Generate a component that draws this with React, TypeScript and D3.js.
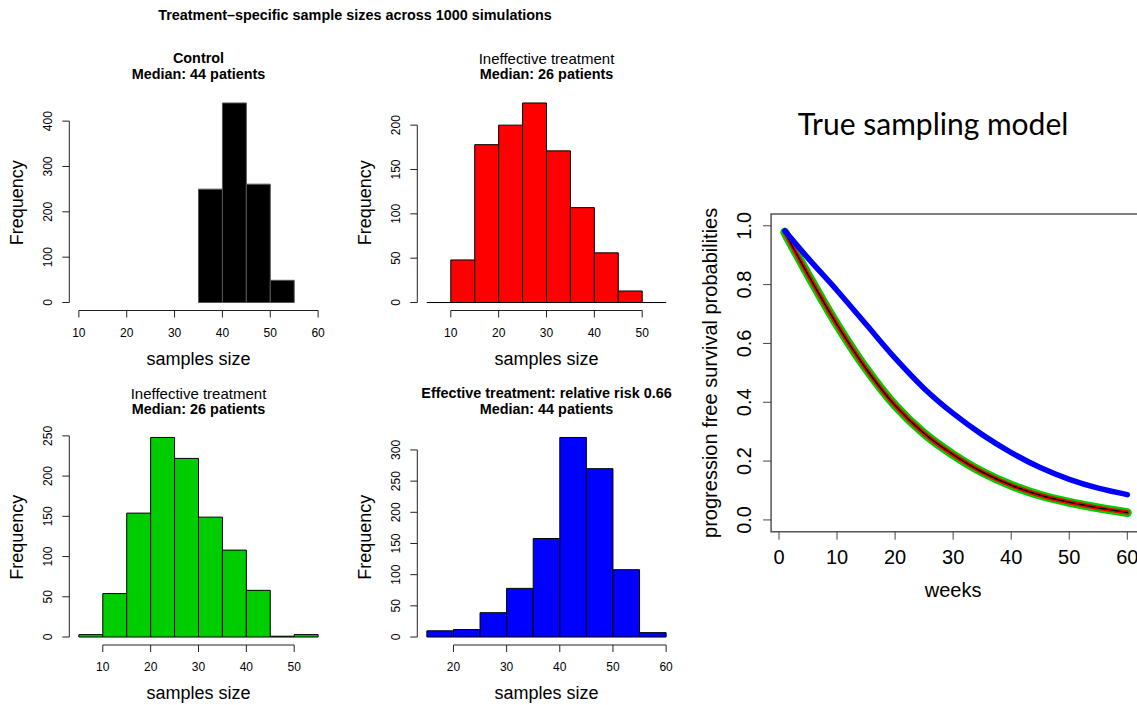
import React from 'react'
import * as d3 from 'd3'

// histogram data
const controlBreaks = [35, 40, 45, 50, 55]
const controlCounts = [250, 440, 261, 49]
const ineffBreaks = [5, 10, 15, 20, 25, 30, 35, 40, 45, 50, 55]
const ineffRedCounts = [0, 48, 178, 200, 225, 171, 107, 56, 13, 0]
const ineffGreenCounts = [3, 54, 154, 248, 222, 149, 108, 58, 1, 3]
const effBreaks = [15, 20, 25, 30, 35, 40, 45, 50, 55, 60]
const effCounts = [10, 12, 39, 78, 158, 320, 270, 108, 7]

const controlXTicks = [10, 20, 30, 40, 50, 60]
const controlYTicks = [0, 100, 200, 300, 400]
const redXTicks = [10, 20, 30, 40, 50]
const redYTicks = [0, 50, 100, 150, 200]
const greenXTicks = [10, 20, 30, 40, 50]
const greenYTicks = [0, 50, 100, 150, 200, 250]
const blueXTicks = [20, 30, 40, 50, 60]
const blueYTicks = [0, 50, 100, 150, 200, 250, 300]

// survival curves
const weeks = [1, 5, 10, 15, 20, 25, 30, 35, 40, 45, 50, 55, 60]
const survControl = [0.978, 0.834, 0.664, 0.514, 0.389, 0.294, 0.222, 0.163, 0.118, 0.084, 0.06, 0.041, 0.025]
const survIneffective = [0.978, 0.834, 0.664, 0.514, 0.389, 0.294, 0.222, 0.163, 0.118, 0.084, 0.06, 0.041, 0.025]
const survEffective = [0.983, 0.89, 0.78, 0.665, 0.55, 0.447, 0.362, 0.29, 0.229, 0.178, 0.138, 0.108, 0.086]
const weekTicks = [0, 10, 20, 30, 40, 50, 60]
const probTicks = [0, 0.2, 0.4, 0.6, 0.8, 1.0]

const FONT = '"Liberation Sans", Arial, Helvetica, sans-serif'

type HistProps = {
  left: number
  top: number
  breaks: number[]
  counts: number[]
  xlim?: [number, number]
  xTicks: number[]
  yTicks: number[]
  fill: string
  stroke: string
  title1: string
  title1Bold: boolean
  title2: string
}

const PW = 258.4
const PH = 215.5

function Hist(props: HistProps) {
  const { left, top, breaks, counts, xTicks, yTicks, fill, stroke } = props
  const xl = props.xlim || [breaks[0], breaks[breaks.length - 1]]
  const xpad = (xl[1] - xl[0]) * 0.04
  const x = d3.scaleLinear().domain([xl[0] - xpad, xl[1] + xpad]).range([left, left + PW])
  const ymax = d3.max(counts) as number
  const y = d3.scaleLinear().domain([-ymax * 0.04, ymax * 1.04]).range([top + PH, top])
  const bottom = top + PH
  const cx = left + PW / 2
  return (
    <g>
      <text x={cx} y={props.title1Bold ? top - 32 : top - 31} textAnchor="middle"
        fontSize={props.title1Bold ? 14.4 : 15} fontWeight={props.title1Bold ? 'bold' : 'normal'}>{props.title1}</text>
      <text x={cx} y={top - 16} textAnchor="middle" fontSize={14.4} fontWeight="bold">{props.title2}</text>
      {counts.map((c, i) => (
        <path key={i}
          d={`M${x(breaks[i])},${y(0)}V${y(c)}H${x(breaks[i + 1])}V${y(0)}Z`}
          fill={fill} stroke={stroke} strokeWidth={1} />
      ))}
      {/* y axis */}
      <line x1={left} x2={left} y1={y(yTicks[0])} y2={y(yTicks[yTicks.length - 1])} stroke="#222" />
      {yTicks.map(t => (
        <g key={t}>
          <line x1={left - 7} x2={left} y1={y(t)} y2={y(t)} stroke="#222" />
          <text transform={`translate(${left - 17},${y(t)}) rotate(-90)`} textAnchor="middle"
            fontSize={12}>{t}</text>
        </g>
      ))}
      {/* x axis */}
      <line x1={x(xTicks[0])} x2={x(xTicks[xTicks.length - 1])} y1={bottom} y2={bottom} stroke="#222" />
      {xTicks.map(t => (
        <g key={t}>
          <line x1={x(t)} x2={x(t)} y1={bottom} y2={bottom + 7} stroke="#222" />
          <text x={x(t)} y={bottom + 26} textAnchor="middle" fontSize={12}>{t}</text>
        </g>
      ))}
      <text transform={`translate(${left - 46},${top + PH / 2}) rotate(-90)`} textAnchor="middle"
        fontSize={18}>Frequency</text>
      <text x={cx} y={bottom + 54} textAnchor="middle" fontSize={18}>samples size</text>
    </g>
  )
}

function SurvivalPlot() {
  const x = d3.scaleLinear().domain([-1.36, 62.36]).range([771.1, 1141])
  const y = d3.scaleLinear().domain([-0.04, 1.04]).range([531.7, 214])
  const line = (vals: number[]) =>
    d3.line<number>().x((_, i) => x(weeks[i])).y(d => y(d)).curve(d3.curveCatmullRom.alpha(0.5))(vals) as string
  const x0 = x.range()[0]
  const y0 = y.range()[0]
  return (
    <g>
      <text x={933} y={135} textAnchor="middle" fontSize={30}
        fontFamily='Lato, "Open Sans", sans-serif'>True sampling model</text>
      <path d={`M${x.range()[1]},${y.range()[1]}H${x0}V${y0}H${x.range()[1]}`} fill="none" stroke="#555" strokeWidth={1.5} />
      <path d={line(survControl)} fill="none" stroke="#00cd00" strokeWidth={9} strokeLinecap="round" strokeLinejoin="round" />
      <path d={line(survIneffective)} fill="none" stroke="#ff0000" strokeWidth={4.5} strokeLinecap="round" strokeLinejoin="round" />
      <path d={line(survControl)} fill="none" stroke="#000" strokeWidth={1.5} strokeLinecap="round" />
      <path d={line(survEffective)} fill="none" stroke="#0000ff" strokeWidth={5.5} strokeLinecap="round" strokeLinejoin="round" />
      {probTicks.map(t => (
        <g key={t}>
          <line x1={x0 - 8} x2={x0} y1={y(t)} y2={y(t)} stroke="#444" />
          <text transform={`translate(${x0 - 20},${y(t)}) rotate(-90)`} textAnchor="middle"
            fontSize={20}>{t.toFixed(1)}</text>
        </g>
      ))}
      {weekTicks.map(t => (
        <g key={t}>
          <line x1={x(t)} x2={x(t)} y1={y0} y2={y0 + 8} stroke="#444" />
          <text x={x(t)} y={y0 + 32} textAnchor="middle" fontSize={20}>{t}</text>
        </g>
      ))}
      <text x={x(30)} y={597} textAnchor="middle" fontSize={20}>weeks</text>
      <text transform={`translate(717,${(y0 + y.range()[1]) / 2}) rotate(-90)`} textAnchor="middle"
        fontSize={20}>progression free survival probabilities</text>
    </g>
  )
}

export default function App() {
  return (
    <div style={{ position: 'absolute', left: 0, top: 0 }}>
      <svg width={1137} height={705} fontFamily={FONT} style={{ display: 'block', background: '#fff' }}>
        <text x={355} y={20} textAnchor="middle" fontSize={14.4} fontWeight="bold">
          Treatment–specific sample sizes across 1000 simulations
        </text>
        <Hist left={69.3} top={95} breaks={controlBreaks} counts={controlCounts} xlim={[10, 60]}
          xTicks={controlXTicks} yTicks={controlYTicks} fill="#000" stroke="#555"
          title1="Control" title1Bold={true} title2="Median: 44 patients" />
        <Hist left={417.3} top={95} breaks={ineffBreaks} counts={ineffRedCounts}
          xTicks={redXTicks} yTicks={redYTicks} fill="#ff0000" stroke="#000"
          title1="Ineffective treatment" title1Bold={false} title2="Median: 26 patients" />
        <Hist left={69.3} top={429.5} breaks={ineffBreaks} counts={ineffGreenCounts}
          xTicks={greenXTicks} yTicks={greenYTicks} fill="#00cd00" stroke="#000"
          title1="Ineffective treatment" title1Bold={false} title2="Median: 26 patients" />
        <Hist left={417.3} top={429.5} breaks={effBreaks} counts={effCounts}
          xTicks={blueXTicks} yTicks={blueYTicks} fill="#0000ff" stroke="#000"
          title1="Effective treatment: relative risk 0.66" title1Bold={true} title2="Median: 44 patients" />
        <SurvivalPlot />
      </svg>
    </div>
  )
}
